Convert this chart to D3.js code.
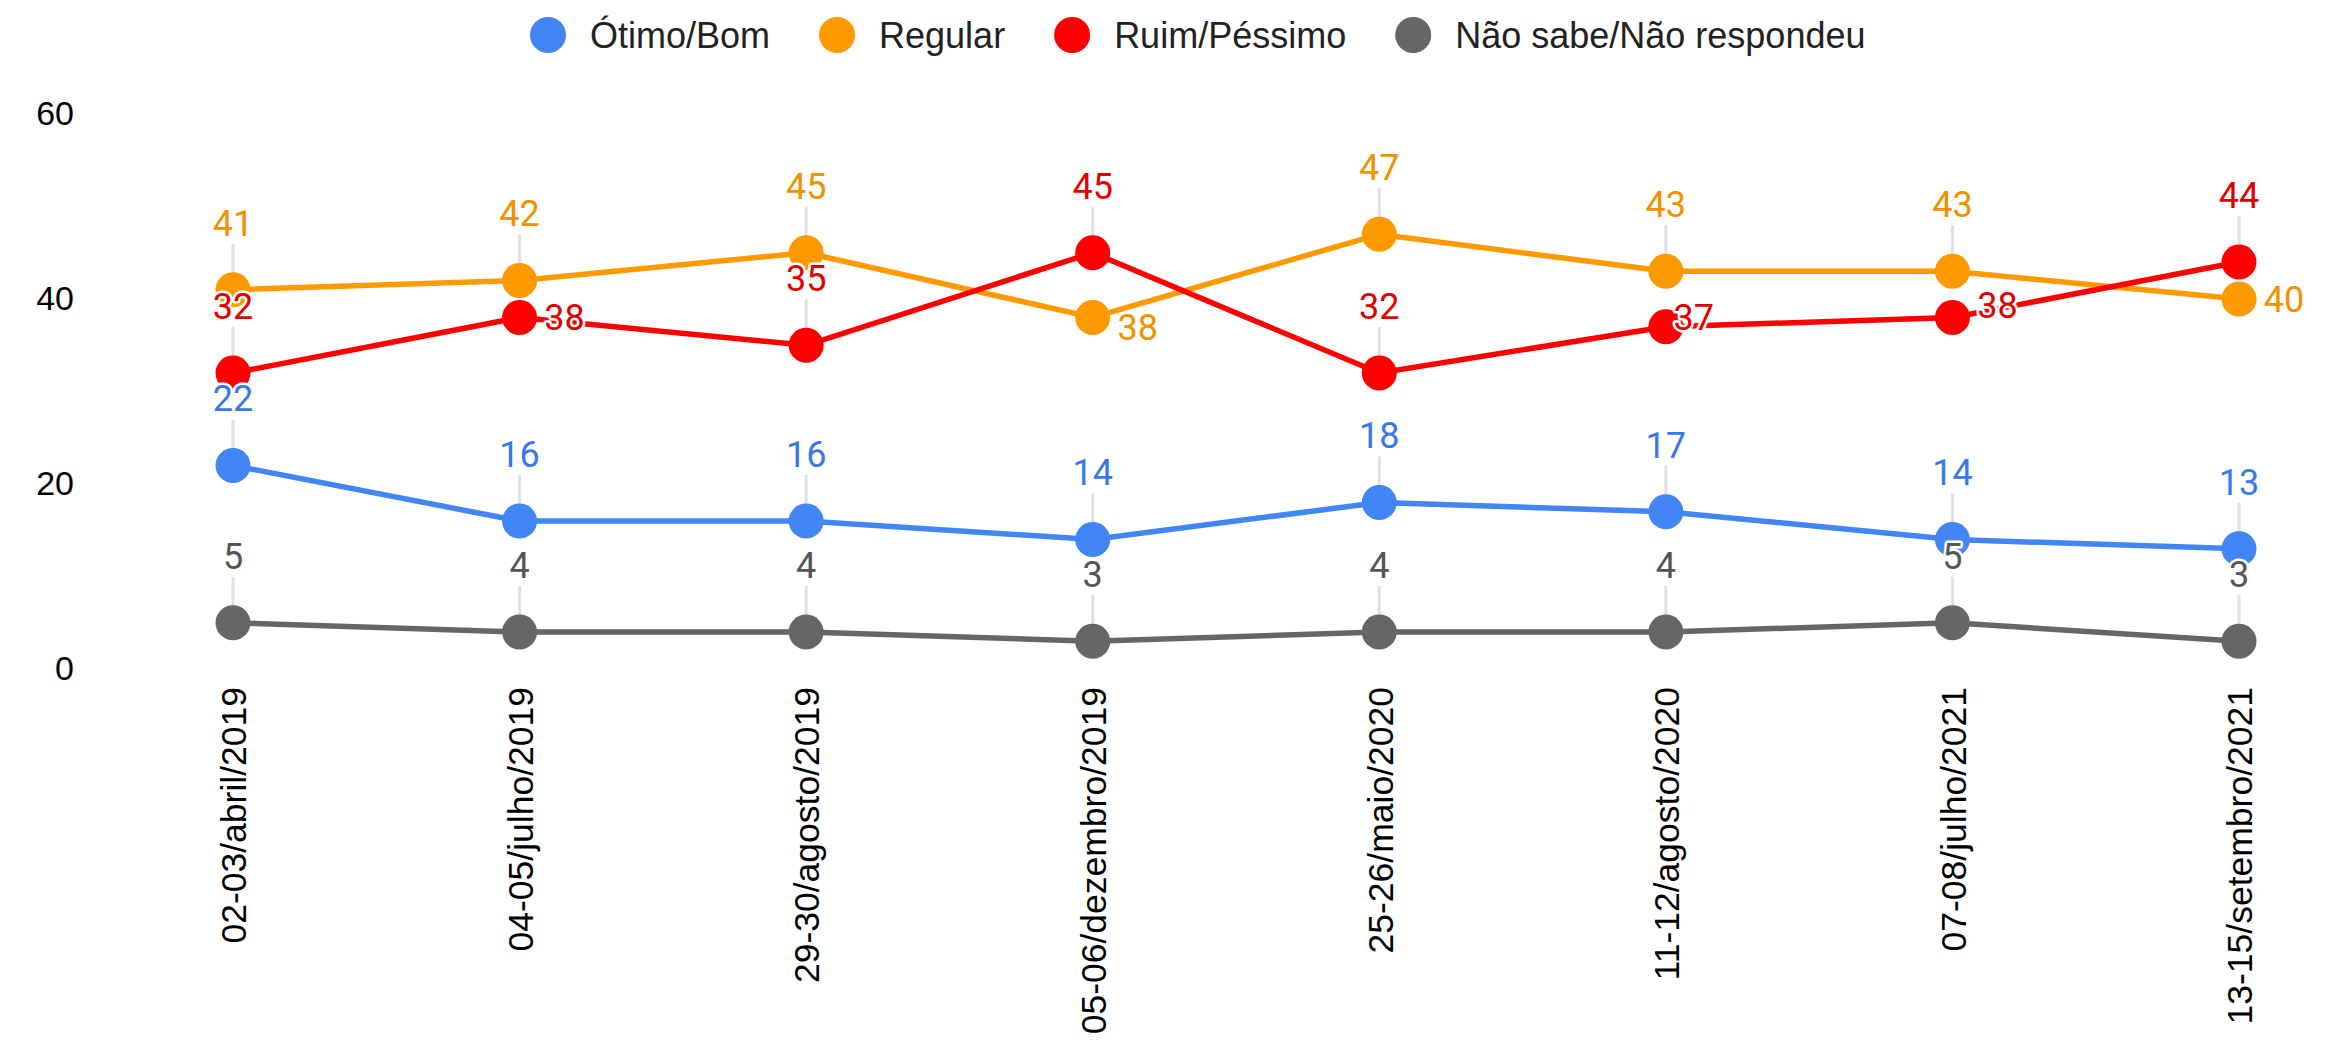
<!DOCTYPE html>
<html>
<head>
<meta charset="utf-8">
<script src="https://cdn.jsdelivr.net/npm/d3@7"></script>
<style>
  body { margin: 0; background: #fff; }
  svg { display: block; }
</style>
</head>
<body>
<div id="contenedor"></div>
<script>
// datos
const datas = ["02-03/abril/2019", "04-05/julho/2019", "29-30/agosto/2019", "05-06/dezembro/2019",
               "25-26/maio/2020", "11-12/agosto/2020", "07-08/julho/2021", "13-15/setembro/2021"]
const nomes = ["Ótimo/Bom", "Regular", "Ruim/Péssimo", "Não sabe/Não respondeu"]
const otimoBom = [22, 16, 16, 14, 18, 17, 14, 13]
const regular = [41, 42, 45, 38, 47, 43, 43, 40]
const ruimPessimo = [32, 38, 35, 45, 32, 37, 38, 44]
const naoSabe = [5, 4, 4, 3, 4, 4, 5, 3]
const ticksY = [0, 20, 40, 60]

const cores = ["#4285f4", "#ff9900", "#ff0000", "#666666"]
const coresRotulo = ["#3b78e7", "#f29100", "#e00000", "#555555"]

// rotulos que vao ao lado do ponto e nao em cima: "serie-indice": [dx, dy]
const aoLado = {
  "2-1": [45, 0],
  "1-3": [45, 10],
  "2-5": [28, -10],
  "2-6": [45, -12],
  "1-7": [45, 0]
}

const valores = [otimoBom, regular, ruimPessimo, naoSabe]
const series = nomes.map((n, i) => ({ nome: n, i: i, valores: valores[i] }))

const ancho = 2325, alto = 1042

const svg = d3.select("#contenedor").append("svg")
  .attr("width", ancho).attr("height", alto)

// escalas
const x = d3.scalePoint().domain(datas).range([233, 2239])
const y = d3.scaleLinear().domain([0, 60]).range([669, 114])

// eixo y
const ejeY = svg.append("g")
  .attr("transform", "translate(77,0)")
  .call(d3.axisLeft(y).tickValues(ticksY).tickSize(0))
ejeY.select(".domain").remove()
ejeY.selectAll("text")
  .attr("font-family", "Liberation Sans, Arial, sans-serif")
  .attr("font-size", 34)
  .attr("fill", "#000")

// eixo x
const ejeX = svg.append("g")
  .attr("transform", "translate(0,687)")
  .call(d3.axisBottom(x).tickSize(0))
ejeX.select(".domain").remove()
ejeX.selectAll("text")
  .attr("x", 0).attr("y", 0).attr("dy", "0.36em")
  .attr("transform", "rotate(-90)")
  .style("text-anchor", "end")
  .attr("font-family", "Liberation Sans, Arial, sans-serif")
  .attr("font-size", 35.5)
  .attr("fill", "#000")

// linhas guia dos rotulos
const guias = svg.append("g")
series.forEach(s => {
  s.valores.forEach((v, j) => {
    if (aoLado[s.i + "-" + j]) return
    guias.append("line")
      .attr("x1", x(datas[j])).attr("x2", x(datas[j]))
      .attr("y1", y(v) - 46).attr("y2", y(v))
      .attr("stroke", "#e0e0e0")
      .attr("stroke-width", 3)
  })
})

// linhas
const linha = d3.line()
  .x((d, j) => x(datas[j]))
  .y(d => y(d))

svg.append("g").selectAll("path")
  .data(series)
  .enter()
  .append("path")
  .attr("d", d => linha(d.valores))
  .attr("fill", "none")
  .attr("stroke", d => cores[d.i])
  .attr("stroke-width", 5.5)

// pontos
series.forEach(s => {
  svg.append("g").selectAll("circle")
    .data(s.valores)
    .enter()
    .append("circle")
    .attr("cx", (d, j) => x(datas[j]))
    .attr("cy", d => y(d))
    .attr("r", 17.5)
    .attr("fill", cores[s.i])
})

// rotulos
series.forEach(s => {
  svg.append("g").selectAll("text")
    .data(s.valores)
    .enter()
    .append("text")
    .attr("x", (d, j) => {
      const l = aoLado[s.i + "-" + j]
      return x(datas[j]) + (l ? l[0] : 0)
    })
    .attr("y", (d, j) => {
      const l = aoLado[s.i + "-" + j]
      return y(d) + (l ? l[1] : -67)
    })
    .attr("dy", "0.36em")
    .attr("text-anchor", "middle")
    .attr("font-family", "Roboto, sans-serif")
    .attr("font-size", 36)
    .attr("fill", coresRotulo[s.i])
    .attr("stroke", "#fff")
    .attr("stroke-width", 5)
    .attr("stroke-linejoin", "round")
    .attr("paint-order", "stroke")
    .text(d => d)
})

// legenda
const legenda = svg.append("g").attr("transform", "translate(548,35)")
let pos = 0
series.forEach(s => {
  const item = legenda.append("g").attr("transform", "translate(" + pos + ",0)")
  item.append("circle").attr("r", 18).attr("fill", cores[s.i])
  const t = item.append("text")
    .attr("x", 42).attr("dy", "0.36em")
    .attr("font-family", "Liberation Sans, Arial, sans-serif")
    .attr("font-size", 36)
    .attr("fill", "#222")
    .text(s.nome)
  pos += 42 + t.node().getComputedTextLength() + 67
})
</script>
</body>
</html>
